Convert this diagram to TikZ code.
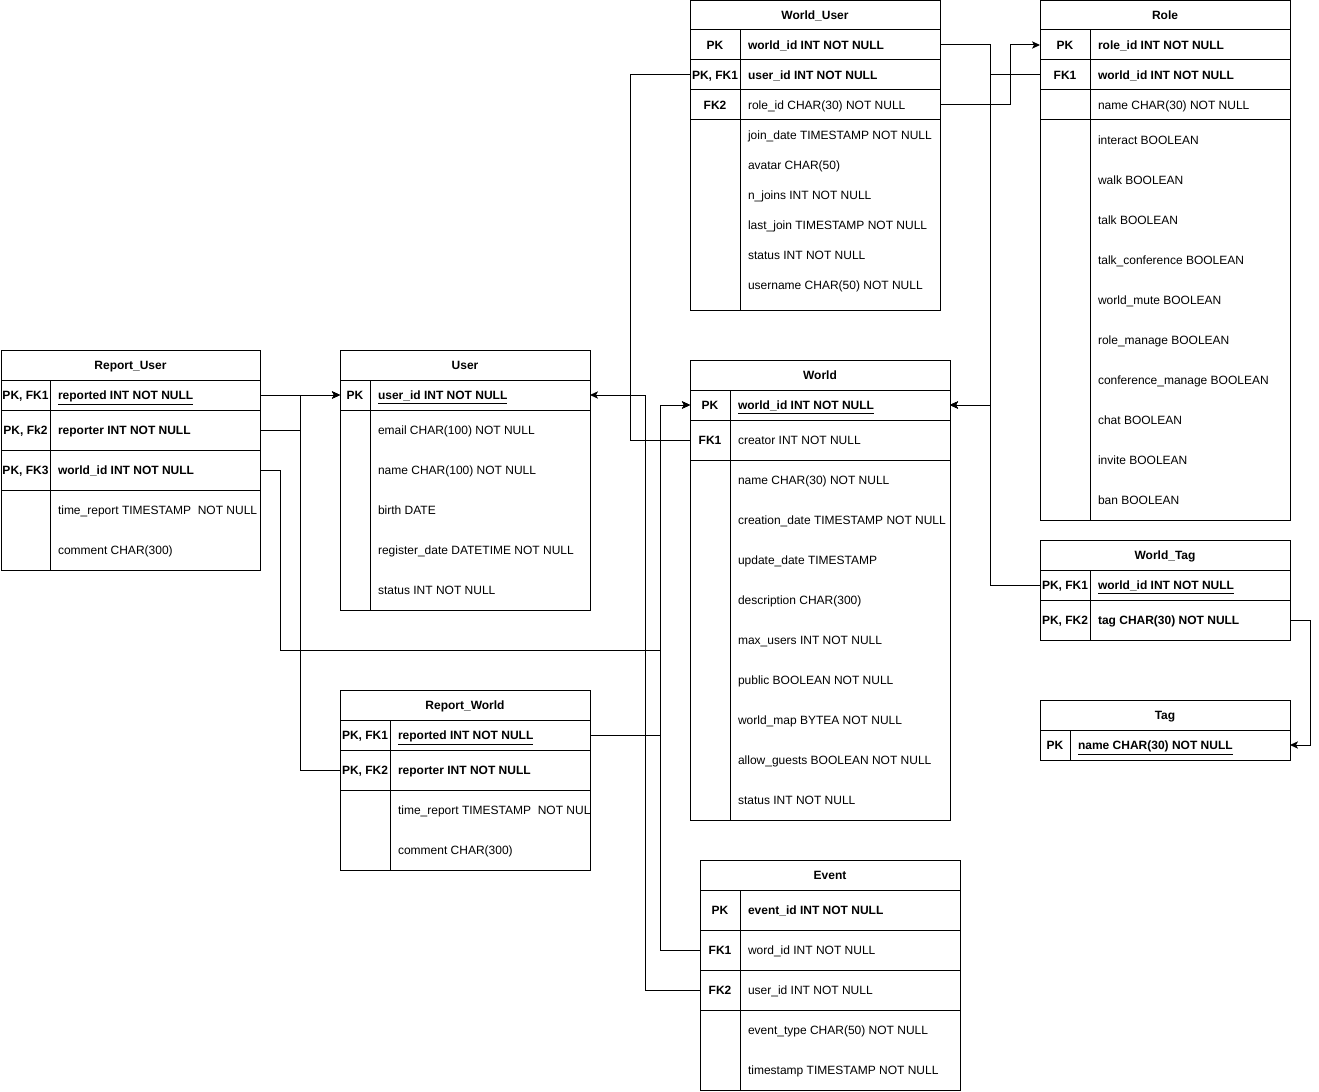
\documentclass[tikz,border=0pt]{standalone}
\usepackage{fontspec}
\setmainfont{Liberation Sans}
\usetikzlibrary{arrows.meta,calc}

\tikzset{
  erline/.style={line width=0.75pt},
  erframe/.style={draw, erline, rectangle, inner sep=0pt, outer sep=0pt},
  erhead/.style={erframe, font=\bfseries, text height=8.9pt, text depth=1.8pt},
  fieldtext/.style={anchor=west, inner sep=0pt, outer sep=0pt, text height=8.7pt, text depth=1.8pt},
  keytext/.style={inner sep=0pt, outer sep=0pt, font=\bfseries, text height=8.7pt, text depth=1.8pt},
  conn/.style={erline, -{Stealth[length=6pt,width=5.5pt,inset=1.5pt]}},
  plainconn/.style={erline},
}

\newcommand\erbox[5]{\node[erframe,minimum width={(#4-#2)*0.75pt},minimum height={(#5-#3)*0.75pt}] (#1) at ({(#2+#4)/2},{(#3+#5)/2}) {};}
\newcommand\erhd[6]{\node[erhead,minimum width={(#4-#2)*0.75pt},minimum height={(#5-#3)*0.75pt}] (#1) at ({(#2+#4)/2},{(#3+#5)/2}) {#6};}
\newcommand\fld[4]{\node[fieldtext] (#1) at (#2,#3) {#4};}
\newcommand\kf[4]{\node[keytext] (#1) at (#2,#3) {#4};}

\begin{document}
\begin{tikzpicture}[x=0.75pt,y=-0.75pt]
\fontsize{9}{11}\selectfont
\useasboundingbox (0,0) rectangle (1319,1091);

% ---------- World_User ----------
\erbox{wu}{690}{0.5}{940}{310}
\erhd{wuh}{690}{0.5}{940}{30}{World\_User}
\erbox{wu1}{690}{30}{940}{60}
\erbox{wu2}{690}{60}{940}{90}
\erbox{wu3}{690}{90}{940}{120}
\draw[erline] (740,30) -- (740,310);
\kf{wuk1}{715}{45}{PK}
\kf{wuk2}{715}{75}{PK, FK1}
\kf{wuk3}{715}{105}{FK2}
\fld{wuf1}{748}{45}{\bfseries world\_id INT NOT NULL}
\fld{wuf2}{748}{75}{\bfseries user\_id INT NOT NULL}
\fld{wuf3}{748}{105}{role\_id CHAR(30) NOT NULL}
\fld{wuf4}{748}{135}{join\_date TIMESTAMP NOT NULL}
\fld{wuf5}{748}{165}{avatar CHAR(50)}
\fld{wuf6}{748}{195}{n\_joins INT NOT NULL}
\fld{wuf7}{748}{225}{last\_join TIMESTAMP NOT NULL}
\fld{wuf8}{748}{255}{status INT NOT NULL}
\fld{wuf9}{748}{285}{username CHAR(50) NOT NULL}

% ---------- Role ----------
\erbox{r}{1040}{0.5}{1290}{520}
\erhd{rh}{1040}{0.5}{1290}{30}{Role}
\erbox{r1}{1040}{30}{1290}{60}
\erbox{r2}{1040}{60}{1290}{90}
\erbox{r3}{1040}{90}{1290}{120}
\draw[erline] (1090,30) -- (1090,520);
\kf{rk1}{1065}{45}{PK}
\kf{rk2}{1065}{75}{FK1}
\fld{rf1}{1098}{45}{\bfseries role\_id INT NOT NULL}
\fld{rf2}{1098}{75}{\bfseries world\_id INT NOT NULL}
\fld{rf3}{1098}{105}{name CHAR(30) NOT NULL}
\fld{rf4}{1098}{140}{interact BOOLEAN}
\fld{rf5}{1098}{180}{walk BOOLEAN}
\fld{rf6}{1098}{220}{talk BOOLEAN}
\fld{rf7}{1098}{260}{talk\_conference BOOLEAN}
\fld{rf8}{1098}{300}{world\_mute BOOLEAN}
\fld{rf9}{1098}{340}{role\_manage BOOLEAN}
\fld{rf10}{1098}{380}{conference\_manage BOOLEAN}
\fld{rf11}{1098}{420}{chat BOOLEAN}
\fld{rf12}{1098}{460}{invite BOOLEAN}
\fld{rf13}{1098}{500}{ban BOOLEAN}

% ---------- Report_User ----------
\erbox{ru}{1}{350}{260}{570}
\erhd{ruh}{1}{350}{260}{380}{Report\_User}
\erbox{ru1}{1}{380}{260}{410}
\erbox{ru2}{1}{410}{260}{450}
\erbox{ru3}{1}{450}{260}{490}
\draw[erline] (50,380) -- (50,570);
\kf{ruk1}{25.5}{395}{PK, FK1}
\kf{ruk2}{25.5}{430}{PK, Fk2}
\kf{ruk3}{25.5}{470}{PK, FK3}
\fld{ruf1}{58}{395}{\bfseries\underline{reported INT NOT NULL}}
\fld{ruf2}{58}{430}{\bfseries reporter INT NOT NULL}
\fld{ruf3}{58}{470}{\bfseries world\_id INT NOT NULL}
\fld{ruf4}{58}{510}{time\_report TIMESTAMP\ \ NOT NULL}
\fld{ruf5}{58}{550}{comment CHAR(300)}

% ---------- User ----------
\erbox{u}{340}{350}{590}{610}
\erhd{uh}{340}{350}{590}{380}{User}
\erbox{u1}{340}{380}{590}{410}
\draw[erline] (370,380) -- (370,610);
\kf{uk1}{355}{395}{PK}
\fld{uf1}{378}{395}{\bfseries\underline{user\_id INT NOT NULL}}
\fld{uf2}{378}{430}{email CHAR(100) NOT NULL}
\fld{uf3}{378}{470}{name CHAR(100) NOT NULL}
\fld{uf4}{378}{510}{birth DATE}
\fld{uf5}{378}{550}{register\_date DATETIME NOT NULL}
\fld{uf6}{378}{590}{status INT NOT NULL}

% ---------- World ----------
\erbox{w}{690}{360}{950}{820}
\erhd{wh}{690}{360}{950}{390}{World}
\erbox{w1}{690}{390}{950}{420}
\erbox{w2}{690}{420}{950}{460}
\draw[erline] (730,390) -- (730,820);
\kf{wk1}{710}{405}{PK}
\kf{wk2}{710}{440}{FK1}
\fld{wf1}{738}{405}{\bfseries\underline{world\_id INT NOT NULL}}
\fld{wf2}{738}{440}{creator INT NOT NULL}
\fld{wf3}{738}{480}{name CHAR(30) NOT NULL}
\fld{wf4}{738}{520}{creation\_date TIMESTAMP NOT NULL}
\fld{wf5}{738}{560}{update\_date TIMESTAMP}
\fld{wf6}{738}{600}{description CHAR(300)}
\fld{wf7}{738}{640}{max\_users INT NOT NULL}
\fld{wf8}{738}{680}{public BOOLEAN NOT NULL}
\fld{wf9}{738}{720}{world\_map BYTEA NOT NULL}
\fld{wf10}{738}{760}{allow\_guests BOOLEAN NOT NULL}
\fld{wf11}{738}{800}{status INT NOT NULL}

% ---------- World_Tag ----------
\erbox{wt}{1040}{540}{1290}{640}
\erhd{wth}{1040}{540}{1290}{570}{World\_Tag}
\erbox{wt1}{1040}{570}{1290}{600}
\erbox{wt2}{1040}{600}{1290}{640}
\draw[erline] (1090,570) -- (1090,640);
\kf{wtk1}{1065}{585}{PK, FK1}
\kf{wtk2}{1065}{620}{PK, FK2}
\fld{wtf1}{1098}{585}{\bfseries\underline{world\_id INT NOT NULL}}
\fld{wtf2}{1098}{620}{\bfseries tag CHAR(30) NOT NULL}

% ---------- Tag ----------
\erbox{t}{1040}{700}{1290}{760}
\erhd{th}{1040}{700}{1290}{730}{Tag}
\erbox{t1}{1040}{730}{1290}{760}
\draw[erline] (1070,730) -- (1070,760);
\kf{tk1}{1055}{745}{PK}
\fld{tf1}{1078}{745}{\bfseries\underline{name CHAR(30) NOT NULL}}

% ---------- Report_World ----------
\erbox{rw}{340}{690}{590}{870}
\erhd{rwh}{340}{690}{590}{720}{Report\_World}
\erbox{rw1}{340}{720}{590}{750}
\erbox{rw2}{340}{750}{590}{790}
\draw[erline] (390,720) -- (390,870);
\kf{rwk1}{365}{735}{PK, FK1}
\kf{rwk2}{365}{770}{PK, FK2}
\fld{rwf1}{398}{735}{\bfseries\underline{reported INT NOT NULL}}
\fld{rwf2}{398}{770}{\bfseries reporter INT NOT NULL}
\begin{scope}
\clip (390,790) rectangle (590,870);
\fld{rwf3}{398}{810}{time\_report TIMESTAMP\ \ NOT NULL}
\end{scope}
\fld{rwf4}{398}{850}{comment CHAR(300)}

% ---------- Event ----------
\erbox{e}{700}{860}{960}{1090}
\erhd{eh}{700}{860}{960}{890}{Event}
\erbox{e1}{700}{890}{960}{930}
\erbox{e2}{700}{930}{960}{970}
\erbox{e3}{700}{970}{960}{1010}
\draw[erline] (740,890) -- (740,1090);
\kf{ek1}{720}{910}{PK}
\kf{ek2}{720}{950}{FK1}
\kf{ek3}{720}{990}{FK2}
\fld{ef1}{748}{910}{\bfseries event\_id INT NOT NULL}
\fld{ef2}{748}{950}{word\_id INT NOT NULL}
\fld{ef3}{748}{990}{user\_id INT NOT NULL}
\fld{ef4}{748}{1030}{event\_type CHAR(50) NOT NULL}
\fld{ef5}{748}{1070}{timestamp TIMESTAMP NOT NULL}

% ---------- Connectors ----------
\draw[conn] (wu1.east) -- ++(50,0) |- (w1.east);
\draw[conn] (wt1.west) -- ++(-50,0) |- (w1.east);
\draw[conn] (r2.west) -- ++(-50,0) |- (w1.east);
\draw[conn] (wu3.east) -- ++(70,0) |- (r1.west);
\draw[plainconn] (wu2.west) -- ++(-60,0) |- (w2.west);
\draw[conn] (e3.west) -- ++(-55,0) |- (u1.east);
\draw[conn] (e2.west) -- ++(-40,0) |- (w1.west);
\draw[conn] (ru1.east) -- (u1.west);
\draw[conn] (ru2.east) -- ++(40,0) |- (u1.west);
\draw[conn] (rw2.west) -- ++(-40,0) |- (u1.west);
\draw[conn] (ru3.east) -- ++(20,0) -- ++(0,180) -| ($(w1.west)+(-30,0)$) -- (w1.west);
\draw[conn] (rw1.east) -- ++(70,0) |- (w1.west);
\draw[conn] (wt2.east) -- ++(20,0) |- (t1.east);
\end{tikzpicture}
\end{document}
